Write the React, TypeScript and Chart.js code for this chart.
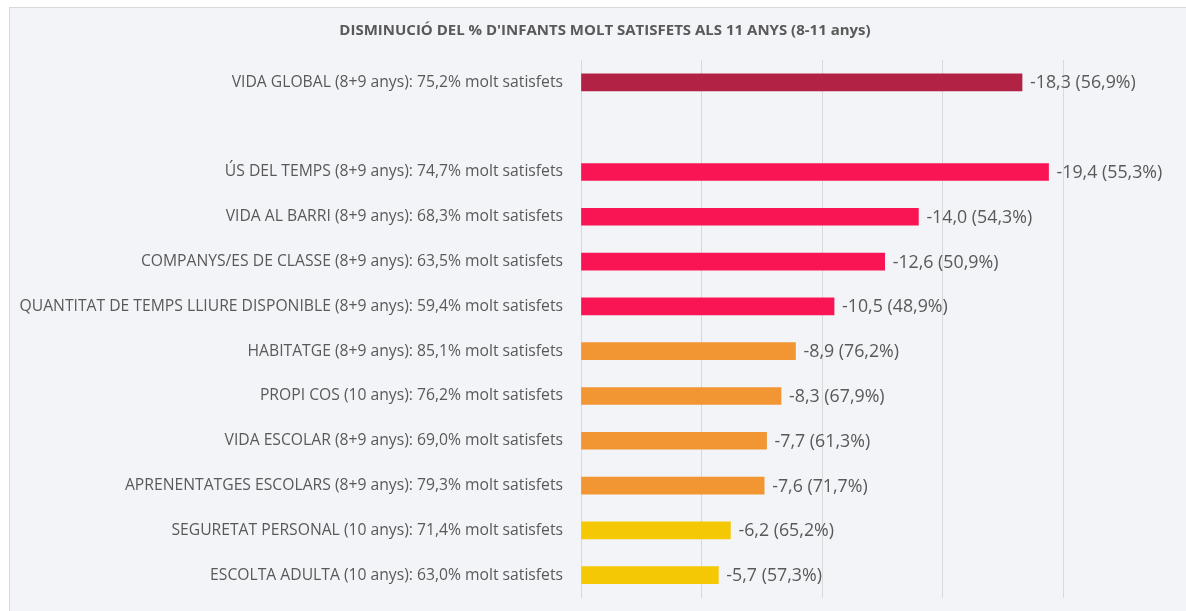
import React, { useEffect, useRef } from "react";
import { Chart, registerables } from "chart.js";

Chart.register(...registerables);

const title = "DISMINUCIÓ DEL % D'INFANTS MOLT SATISFETS ALS 11 ANYS (8-11 anys)";

const categories = [
  "VIDA GLOBAL (8+9 anys): 75,2% molt satisfets",
  "",
  "ÚS DEL TEMPS (8+9 anys): 74,7% molt satisfets",
  "VIDA AL BARRI (8+9 anys): 68,3% molt satisfets",
  "COMPANYS/ES DE CLASSE (8+9 anys): 63,5% molt satisfets",
  "QUANTITAT DE TEMPS LLIURE DISPONIBLE (8+9 anys): 59,4% molt satisfets",
  "HABITATGE (8+9 anys): 85,1% molt satisfets",
  "PROPI COS (10 anys): 76,2% molt satisfets",
  "VIDA ESCOLAR (8+9 anys): 69,0% molt satisfets",
  "APRENENTATGES ESCOLARS (8+9 anys): 79,3% molt satisfets",
  "SEGURETAT PERSONAL (10 anys): 71,4% molt satisfets",
  "ESCOLTA ADULTA (10 anys): 63,0% molt satisfets",
];

const decrease: (number | null)[] = [18.3, null, 19.4, 14.0, 12.6, 10.5, 8.9, 8.3, 7.7, 7.6, 6.2, 5.7];
const finalPct: (string | null)[] = ["56,9", null, "55,3", "54,3", "50,9", "48,9", "76,2", "67,9", "61,3", "71,7", "65,2", "57,3"];

const DARK_RED = "#b22245";
const PINK = "#f91454";
const ORANGE = "#f29533";
const YELLOW = "#f5c806";
const barColors = [DARK_RED, DARK_RED, PINK, PINK, PINK, PINK, ORANGE, ORANGE, ORANGE, ORANGE, YELLOW, YELLOW];

const xTicks = { min: 0, max: 20, step: 5 };

const FONT = "'Open Sans', sans-serif";
const TEXT = "#595959";

const fmt = (v: number) => v.toFixed(1).replace(".", ",");

const valueLabels = {
  id: "valueLabels",
  afterDatasetsDraw(chart: any) {
    const ctx = chart.ctx;
    const meta = chart.getDatasetMeta(0);
    ctx.save();
    ctx.fillStyle = TEXT;
    ctx.font = `17.8px ${FONT}`;
    ctx.textAlign = "left";
    ctx.textBaseline = "middle";
    meta.data.forEach((bar: any, i: number) => {
      const v = decrease[i];
      if (v == null) return;
      ctx.fillText(`-${fmt(v)} (${finalPct[i]}%)`, bar.x + 8, bar.y + 1);
    });
    ctx.restore();
  },
};

const titleDraw = {
  id: "titleDraw",
  afterDraw(chart: any) {
    const ctx = chart.ctx;
    ctx.save();
    ctx.fillStyle = TEXT;
    ctx.font = `bold 15px ${FONT}`;
    ctx.textAlign = "center";
    ctx.textBaseline = "middle";
    ctx.fillText(title, 595, 23);
    ctx.restore();
  },
};

export default function App() {
  const ref = useRef<HTMLCanvasElement | null>(null);
  useEffect(() => {
    if (!ref.current) return;
    const chart = new Chart(ref.current, {
      type: "bar",
      data: {
        labels: categories,
        datasets: [
          {
            data: decrease,
            backgroundColor: barColors,
            barThickness: 17,
          },
        ],
      },
      options: {
        indexAxis: "y",
        animation: false,
        responsive: false,
        maintainAspectRatio: false,
        layout: { padding: { left: 0, right: 123, top: 52, bottom: 11 } },
        plugins: {
          legend: { display: false },
          tooltip: { enabled: false },
          title: { display: false },
        },
        scales: {
          x: {
            min: xTicks.min,
            max: xTicks.max,
            ticks: { display: false, stepSize: xTicks.step },
            grid: { color: "#d9d9d9", drawTicks: false, lineWidth: 1 },
            border: { display: false },
            afterFit: (scale: any) => {
              scale.height = 0;
            },
          },
          y: {
            ticks: {
              color: TEXT,
              font: { family: FONT, size: 15.7 },
              padding: 18,
              autoSkip: false,
            },
            grid: { display: false, drawTicks: false },
            border: { display: false },
            afterFit: (scale: any) => {
              scale.width = 571;
            },
          },
        },
      },
      plugins: [valueLabels, titleDraw],
    });
    return () => chart.destroy();
  }, []);

  return (
    <div
      style={{
        position: "absolute",
        left: 9,
        top: 7,
        width: 1200,
        height: 640,
        background: "#f3f4f7",
        borderLeft: "1px solid #d9d9d9",
        borderTop: "1px solid #d9d9d9",
      }}
    >
      <canvas ref={ref} width={1176} height={617} style={{ display: "block" }} />
    </div>
  );
}
